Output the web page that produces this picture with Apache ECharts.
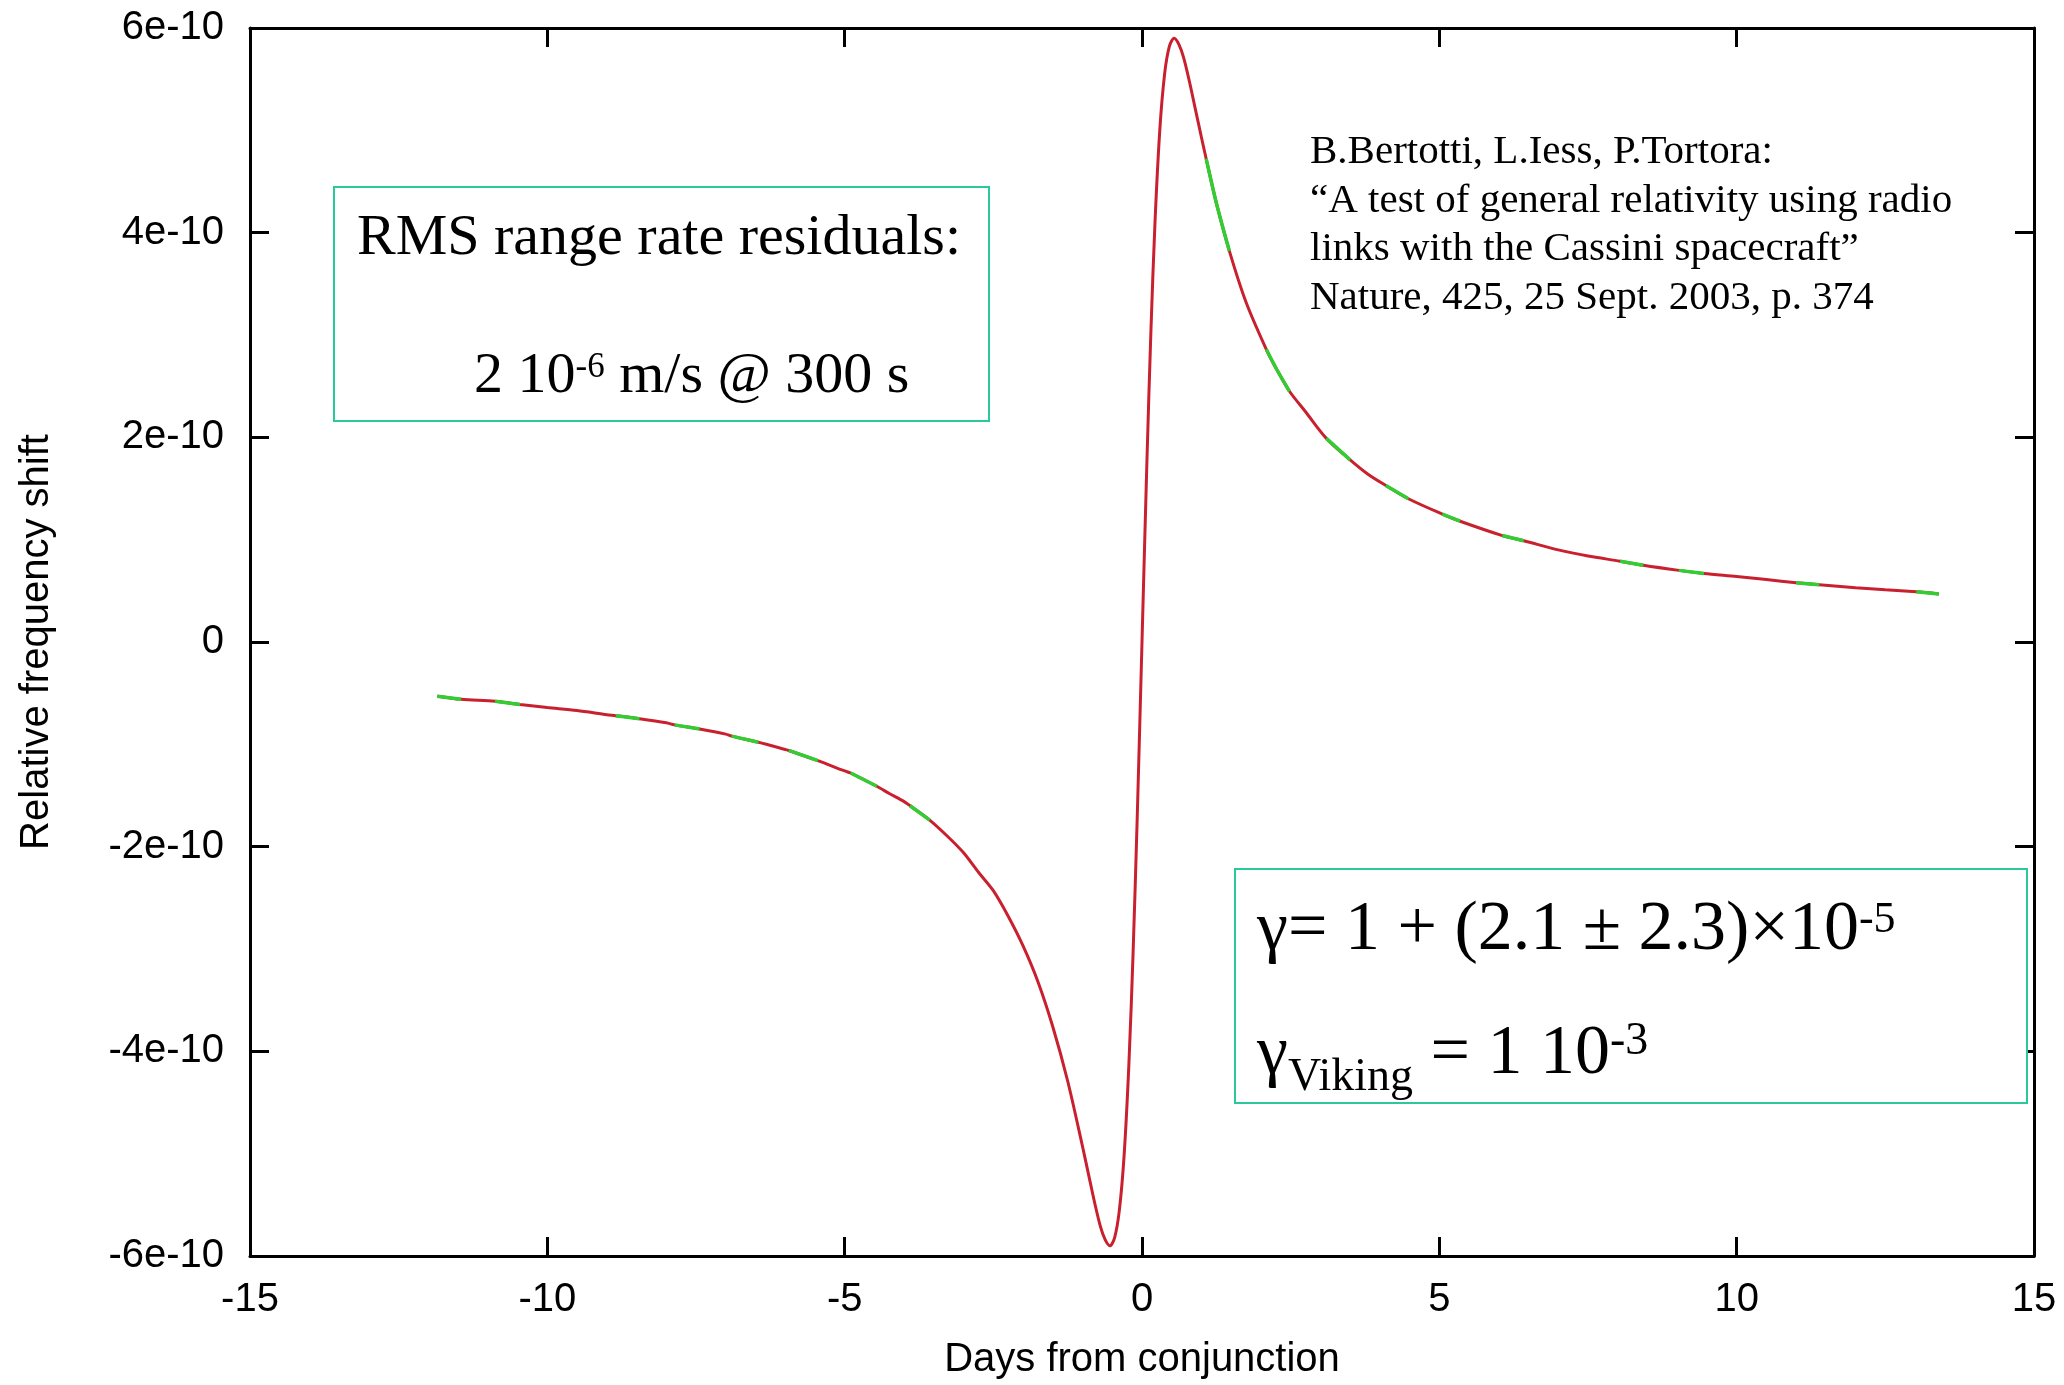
<!DOCTYPE html>
<html>
<head>
<meta charset="utf-8">
<script src="https://cdn.jsdelivr.net/npm/echarts@6/dist/echarts.min.js"></script>
<style>
html,body{margin:0;padding:0;background:#fff;}
#chart{width:2064px;height:1385px;}
</style>
</head>
<body>
<div id="chart"></div>
<script>
// Days from conjunction (x) and relative frequency shift in units of 1e-10 (y)
const days = [
  -11.85, -11.45, -10.88, -10.46, -10, -9.5, -9, -8.85, -8.45, -8, -7.86, -7.44, -7, -6.9, -6.45,
  -6, -5.94, -5.45, -5, -4.9, -4.46, -4.25, -4, -3.9, -3.57, -3.25, -3, -2.75, -2.5, -2.25, -2, -1.75, -1.5, -1.25, -1,
  -0.9, -0.8, -0.7, -0.62, -0.54, -0.46, -0.38, -0.3, -0.22, -0.15, -0.08, 0,
  0.08, 0.15, 0.22, 0.3, 0.38, 0.46, 0.54, 0.62, 0.7, 0.8, 0.9, 1, 1.08, 1.25, 1.47, 1.75,
  2.09, 2.25, 2.48, 2.75, 3.1, 3.5, 3.8, 4.1, 4.48, 5.05, 5.35, 6.06, 6.42, 7, 7.5, 8.04, 8.43, 9.03,
  9.45, 10, 10.5, 11, 11.39, 12, 12.5, 13.02, 13.4
];
const shiftE10 = [
  -0.53, -0.56, -0.58, -0.61, -0.64, -0.67, -0.71, -0.72, -0.75, -0.79, -0.81, -0.85, -0.90, -0.92, -0.98,
  -1.05, -1.06, -1.16, -1.26, -1.28, -1.41, -1.48, -1.56, -1.60, -1.74, -1.91, -2.06, -2.25, -2.43, -2.68, -2.97, -3.32, -3.76, -4.29, -4.93,
  -5.20, -5.47, -5.71, -5.84, -5.90, -5.82, -5.55, -5.01, -4.12, -3.04, -1.71, 0,
  1.71, 3.04, 4.12, 5.01, 5.55, 5.82, 5.90, 5.84, 5.71, 5.47, 5.20, 4.93, 4.72, 4.29, 3.82, 3.32,
  2.86, 2.68, 2.45, 2.25, 1.99, 1.78, 1.64, 1.53, 1.40, 1.25, 1.18, 1.04, 0.99, 0.90, 0.84, 0.79, 0.75, 0.70,
  0.67, 0.64, 0.61, 0.58, 0.56, 0.53, 0.51, 0.49, 0.47
];
// Intervals (days) where the green model curve shows through the red data
const greenRanges = [
  [-11.85, -11.45], [-10.88, -10.46], [-8.85, -8.45], [-7.86, -7.44], [-6.9, -6.45],
  [-5.94, -5.45], [-4.9, -4.46], [-3.9, -3.57], [1.08, 1.47], [2.09, 2.48], [3.1, 3.5],
  [4.1, 4.48], [5.05, 5.35], [6.06, 6.42], [8.04, 8.43], [9.03, 9.45], [11, 11.39], [13.02, 13.4]
];
const yTickValues = [-6, -4, -2, 0, 2, 4, 6];
const yTickLabels = ['-6e-10', '-4e-10', '-2e-10', '0', '2e-10', '4e-10', '6e-10'];
const xAxisTitle = 'Days from conjunction';
const yAxisTitle = 'Relative frequency shift';
const citationLines = [
  'B.Bertotti, L.Iess, P.Tortora:',
  '\u201CA test of general relativity using radio',
  'links with the Cassini spacecraft\u201D',
  'Nature, 425, 25 Sept. 2003, p. 374'
];

const redData = days.map((d, i) => [d, shiftE10[i]]);
const greenData = [];
greenRanges.forEach(([s, e]) => {
  days.forEach((d, i) => { if (d >= s - 1e-9 && d <= e + 1e-9) greenData.push([d, shiftE10[i]]); });
  greenData.push(null);
});

const SERIF = '"Liberation Serif", "Times New Roman", serif';
const SANS = '"Liberation Sans", Arial, sans-serif';
const ctx = document.createElement('canvas').getContext('2d');
function w(str, fs) { ctx.font = fs + 'px ' + SERIF; return ctx.measureText(str).width; }

const graphics = [];
function txt(str, x, baseline, fs) {
  graphics.push({
    type: 'text', x: x, y: baseline - 0.34 * fs, silent: true, z: 10,
    style: { text: str, font: fs + 'px ' + SERIF, fill: '#000', align: 'left', verticalAlign: 'middle',
             textAlign: 'left', textVerticalAlign: 'middle' }
  });
  return x + w(str, fs);
}
// pieces: [text, fontSize, baselineOffset]
function run(x, baseline, pieces) {
  let cx = x;
  pieces.forEach(p => { cx = txt(p[0], cx, baseline + p[2], p[1]); });
}

const boxColor = '#2bc99a';
graphics.push({ type: 'rect', z: 9, shape: { x: 334, y: 187, width: 655, height: 234 },
  style: { fill: '#fff', stroke: boxColor, lineWidth: 2 } });
graphics.push({ type: 'rect', z: 9, shape: { x: 1235, y: 869, width: 792, height: 234 },
  style: { fill: '#fff', stroke: boxColor, lineWidth: 2 } });

run(357, 258, [['RMS range rate residuals:', 58, 0]]);
run(474, 396, [['2 10', 58, 0], ['-6', 35, -16], [' m/s @ 300 s', 58, 0]]);

run(1257, 954, [['\u03B3= 1 + (2.1 \u00B1 2.3)\u00D710', 70, 0], ['-5', 44, -19]]);
run(1257, 1078, [['\u03B3', 70, 0], ['Viking', 46, 16], [' = 1 10', 70, 0], ['-3', 46, -20]]);

citationLines.forEach((line, i) => run(1310, 166 + i * 48.7, [[line, 41, 0]]));

const axisLineStyle = { color: '#000', width: 3 };
const tickStyle = { inside: true, length: 19, lineStyle: { color: '#000', width: 3 } };
const labelFont = { color: '#000', fontFamily: SANS, fontSize: 40 };

const option = {
  animation: false,
  backgroundColor: '#fff',
  grid: { left: 250, top: 28, right: 30, bottom: 127, containLabel: false },
  xAxis: [
    { type: 'value', min: -15, max: 15, interval: 5, position: 'bottom',
      axisLine: { onZero: false, lineStyle: axisLineStyle }, axisTick: tickStyle,
      axisLabel: Object.assign({ margin: 24 }, labelFont), splitLine: { show: false },
      name: xAxisTitle, nameLocation: 'middle', nameGap: 84,
      nameTextStyle: { color: '#000', fontFamily: SANS, fontSize: 40 } },
    { type: 'value', min: -15, max: 15, interval: 5, position: 'top',
      axisLine: { onZero: false, lineStyle: axisLineStyle }, axisTick: tickStyle,
      axisLabel: { show: false }, splitLine: { show: false } }
  ],
  yAxis: [
    { type: 'value', min: -6, max: 6, interval: 2, position: 'left',
      axisLine: { onZero: false, lineStyle: axisLineStyle }, axisTick: tickStyle,
      axisLabel: Object.assign({ margin: 26, formatter: v => yTickLabels[yTickValues.indexOf(v)] ?? String(v) }, labelFont),
      splitLine: { show: false },
      name: yAxisTitle, nameLocation: 'middle', nameGap: 193,
      nameTextStyle: { color: '#000', fontFamily: SANS, fontSize: 40 } },
    { type: 'value', min: -6, max: 6, interval: 2, position: 'right',
      axisLine: { onZero: false, lineStyle: axisLineStyle }, axisTick: tickStyle,
      axisLabel: { show: false }, splitLine: { show: false } }
  ],
  series: [
    { type: 'line', name: 'data', xAxisIndex: 0, yAxisIndex: 0, data: redData,
      symbol: 'none', smooth: 0.3, z: 2,
      lineStyle: { color: '#c8202e', width: 3 } },
    { type: 'line', name: 'model', xAxisIndex: 0, yAxisIndex: 0, data: greenData,
      symbol: 'none', smooth: 0.3, connectNulls: false, z: 3,
      lineStyle: { color: '#33cc33', width: 3.5 } }
  ],
  graphic: graphics
};

const chart = echarts.init(document.getElementById('chart'), null, { renderer: 'canvas' });
chart.setOption(option);
</script>
</body>
</html>
